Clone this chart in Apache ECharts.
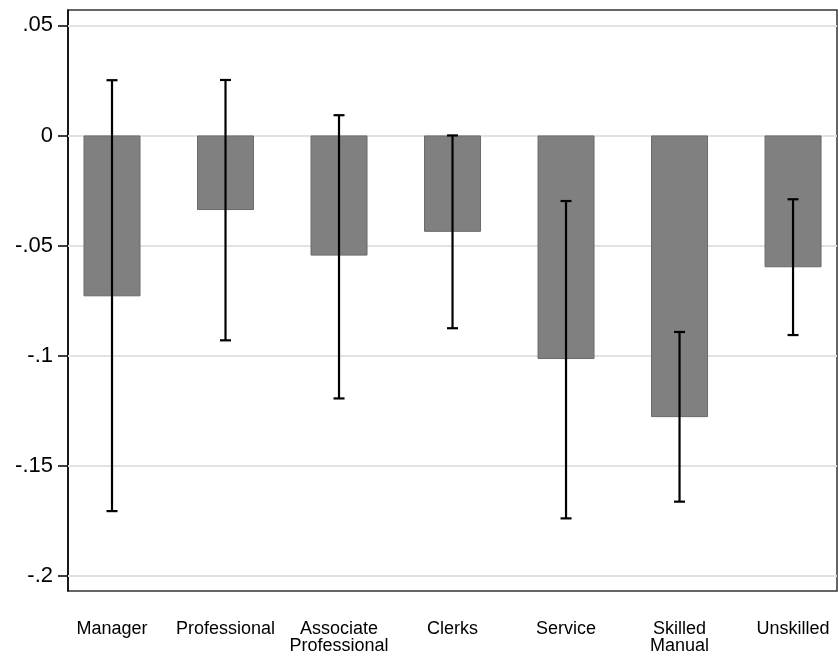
<!DOCTYPE html>
<html>
<head>
<meta charset="utf-8">
<script src="https://cdn.jsdelivr.net/npm/echarts@6/dist/echarts.min.js"></script>
<style>
  html, body { margin: 0; padding: 0; background: #fff; }
  #chart { width: 838px; height: 659px; }
</style>
</head>
<body>
<div id="chart"></div>
<script>
// Occupation groups along the x axis (positions 1..7)
const categories = ['Manager', 'Professional', 'Associate\nProfessional', 'Clerks', 'Service', 'Skilled\nManual', 'Unskilled'];
// Point estimates (bar heights)
const estimates = [-0.0731, -0.0339, -0.0546, -0.0438, -0.1016, -0.1280, -0.0599];
// Confidence interval bounds
const ciLower = [-0.1707, -0.0931, -0.1195, -0.0876, -0.1740, -0.1664, -0.0907];
const ciUpper = [0.0251, 0.0252, 0.0092, 0.0000, -0.0298, -0.0893, -0.0290];
// Y axis ticks and their labels
const yTicks = [0.05, 0, -0.05, -0.1, -0.15, -0.2];
const yTickLabels = ['.05', '0', '-.05', '-.1', '-.15', '-.2'];

const positions = categories.map((c, i) => i + 1);
const barData = estimates.map((v, i) => [positions[i], v]);
const errData = positions.map((p, i) => [p, ciLower[i], ciUpper[i]]);

const chart = echarts.init(document.getElementById('chart'), null, { renderer: 'canvas' });

const fontFamily = '"Liberation Sans", Arial, sans-serif';

chart.setOption({
  animation: false,
  backgroundColor: '#ffffff',
  grid: {
    left: 68, top: 10, width: 769, height: 581,
    show: true, borderColor: '#333333', borderWidth: 1.5, backgroundColor: 'transparent'
  },
  xAxis: {
    type: 'value',
    min: 0.6123,
    max: 7.3873,
    axisLine: { show: true, lineStyle: { color: '#000', width: 1.5 } },
    axisTick: { show: false },
    splitLine: { show: false },
    axisLabel: {
      customValues: positions,
      formatter: v => categories[Math.round(v) - 1] || '',
      color: '#000',
      fontFamily: fontFamily,
      fontSize: 18,
      lineHeight: 17,
      margin: 30,
      align: 'center'
    }
  },
  yAxis: {
    type: 'value',
    min: -0.207,
    max: 0.057,
    axisLine: { show: true, lineStyle: { color: '#000', width: 1.5 } },
    axisTick: {
      show: true, customValues: yTicks, length: 10,
      lineStyle: { color: '#000', width: 1.5 }
    },
    splitLine: { show: false },
    axisLabel: {
      customValues: yTicks,
      formatter: v => {
        const idx = yTicks.findIndex(t => Math.abs(t - v) < 1e-9);
        return idx >= 0 ? yTickLabels[idx] : '';
      },
      color: '#000',
      fontFamily: fontFamily,
      fontSize: 22,
      padding: [5, 0, 0, 0],
      margin: 15
    }
  },
  series: [
    {
      type: 'bar',
      data: barData,
      barWidth: 57,
      z: 2,
      itemStyle: { color: '#808080', borderColor: '#6a6a6a', borderWidth: 1 },
      markLine: {
        silent: true,
        symbol: 'none',
        z: 1,
        label: { show: false },
        lineStyle: { color: '#e2e2e2', width: 2, type: 'solid' },
        data: yTicks.map(t => ({ yAxis: t }))
      }
    },
    {
      type: 'custom',
      z: 3,
      data: errData,
      renderItem: (params, api) => {
        const x = api.value(0);
        const lo = api.coord([x, api.value(1)]);
        const hi = api.coord([x, api.value(2)]);
        const half = 5.5;
        const style = { stroke: '#000', lineWidth: 2.2 };
        return {
          type: 'group',
          children: [
            { type: 'line', shape: { x1: lo[0], y1: lo[1], x2: hi[0], y2: hi[1] }, style },
            { type: 'line', shape: { x1: lo[0] - half, y1: lo[1], x2: lo[0] + half, y2: lo[1] }, style },
            { type: 'line', shape: { x1: hi[0] - half, y1: hi[1], x2: hi[0] + half, y2: hi[1] }, style }
          ]
        };
      }
    }
  ]
});
</script>
</body>
</html>
